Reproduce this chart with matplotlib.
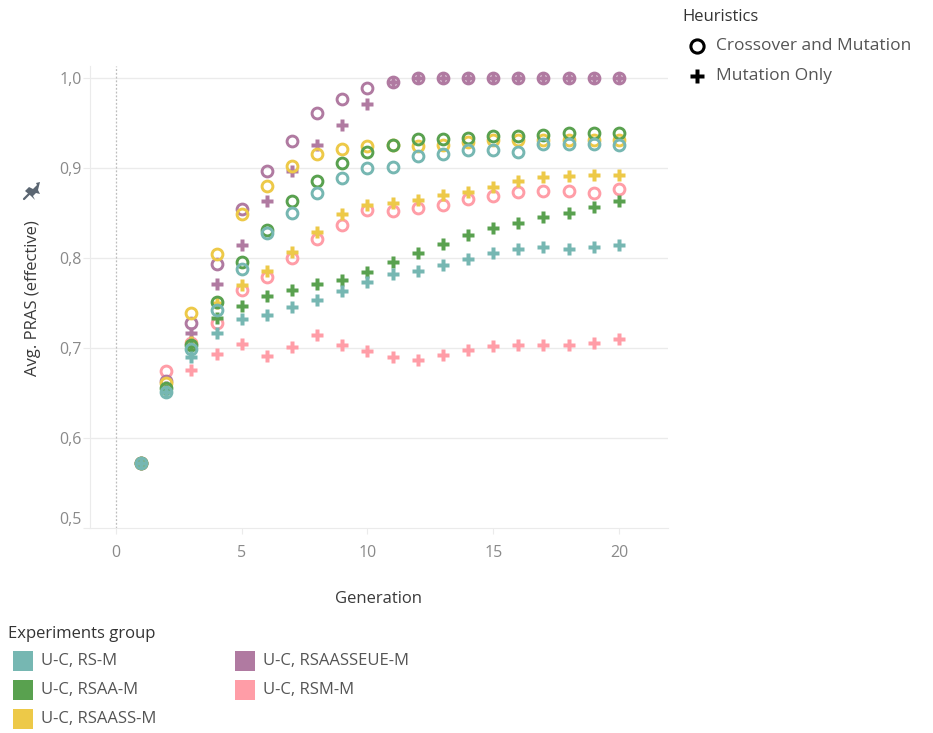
import matplotlib
matplotlib.use("Agg")
import matplotlib.pyplot as plt
from matplotlib.patches import Rectangle, Polygon
from matplotlib.path import Path

plt.rcParams['font.family'] = ['Open Sans', 'DejaVu Sans']

generations = list(range(1, 21))

groups = ["U-C, RS-M", "U-C, RSAA-M", "U-C, RSAASS-M", "U-C, RSAASSEUE-M", "U-C, RSM-M"]
colors = {
    "U-C, RS-M": "#76B7B2",
    "U-C, RSAA-M": "#59A14F",
    "U-C, RSAASS-M": "#EDC948",
    "U-C, RSAASSEUE-M": "#B07AA1",
    "U-C, RSM-M": "#FF9DA7",
}

# Crossover and Mutation
rs_cm = [0.572, 0.651, 0.699, 0.742, 0.788, 0.828, 0.850, 0.872, 0.889, 0.900,
         0.901, 0.913, 0.916, 0.920, 0.920, 0.918, 0.927, 0.927, 0.927, 0.925]
rsaa_cm = [0.572, 0.655, 0.703, 0.751, 0.796, 0.831, 0.863, 0.886, 0.906, 0.918,
           0.926, 0.932, 0.932, 0.933, 0.935, 0.935, 0.937, 0.939, 0.939, 0.939]
rsaass_cm = [0.572, 0.661, 0.739, 0.804, 0.849, 0.880, 0.902, 0.915, 0.921, 0.924,
             0.925, 0.924, 0.926, 0.929, 0.931, 0.931, 0.931, 0.931, 0.931, 0.931]
rsaasseue_cm = [0.572, 0.663, 0.728, 0.793, 0.854, 0.897, 0.930, 0.961, 0.977, 0.989,
                0.996, 1.000, 1.000, 1.000, 1.000, 1.000, 1.000, 1.000, 1.000, 1.000]
rsm_cm = [0.572, 0.674, 0.706, 0.728, 0.764, 0.779, 0.800, 0.821, 0.837, 0.853,
          0.852, 0.855, 0.859, 0.865, 0.869, 0.873, 0.874, 0.874, 0.872, 0.877]

# Mutation Only
rs_mo = [0.572, 0.651, 0.690, 0.717, 0.732, 0.737, 0.745, 0.753, 0.763, 0.773,
         0.782, 0.785, 0.792, 0.799, 0.805, 0.810, 0.812, 0.810, 0.812, 0.814]
rsaa_mo = [0.572, 0.653, 0.702, 0.733, 0.747, 0.758, 0.764, 0.771, 0.776, 0.784,
           0.796, 0.806, 0.816, 0.826, 0.833, 0.839, 0.846, 0.850, 0.857, 0.863]
rsaass_mo = [0.572, 0.656, 0.707, 0.750, 0.770, 0.785, 0.807, 0.829, 0.849, 0.859,
             0.861, 0.864, 0.870, 0.873, 0.879, 0.886, 0.890, 0.891, 0.892, 0.892]
rsaasseue_mo = [0.572, 0.657, 0.717, 0.771, 0.814, 0.863, 0.897, 0.925, 0.948, 0.971,
                0.996, 1.000, 1.000, 1.000, 1.000, 1.000, 1.000, 1.000, 1.000, 1.000]
rsm_mo = [0.572, 0.655, 0.676, 0.693, 0.704, 0.691, 0.701, 0.714, 0.703, 0.697,
          0.690, 0.687, 0.692, 0.698, 0.702, 0.703, 0.703, 0.703, 0.705, 0.710]

crossover = {"U-C, RS-M": rs_cm, "U-C, RSAA-M": rsaa_cm, "U-C, RSAASS-M": rsaass_cm,
             "U-C, RSAASSEUE-M": rsaasseue_cm, "U-C, RSM-M": rsm_cm}
mutation = {"U-C, RS-M": rs_mo, "U-C, RSAA-M": rsaa_mo, "U-C, RSAASS-M": rsaass_mo,
            "U-C, RSAASSEUE-M": rsaasseue_mo, "U-C, RSM-M": rsm_mo}

x_ticks = [0, 5, 10, 15, 20]
y_ticks = [0.5, 0.6, 0.7, 0.8, 0.9, 1.0]
y_tick_labels = ["0,5", "0,6", "0,7", "0,8", "0,9", "1,0"]


def plus_path(t):
    """Plus-sign marker whose arms have half-thickness t (span is 1)."""
    return Path([(-t, -0.5), (t, -0.5), (t, -t), (0.5, -t), (0.5, t), (t, t), (t, 0.5),
                 (-t, 0.5), (-t, t), (-0.5, t), (-0.5, -t), (-t, -t), (-t, -0.5)], closed=True)


plus_marker = plus_path(0.17)
plus_legend = plus_path(0.12)

W, H = 933, 733
fig = plt.figure(figsize=(W / 100, H / 100), dpi=100)
ax = fig.add_axes([90 / W, (H - 528) / H, (668 - 90) / W, (528 - 66) / H])

grid_c = "#ebebeb"
for y in y_ticks[1:]:
    ax.axhline(y, color=grid_c, lw=1, zorder=0)
ax.axvline(0, color="#bdbdbd", lw=0.9, ls=(0, (1.5, 1.5)), zorder=0)

# draw order: pink at the bottom, teal on top
draw_order = ["U-C, RSM-M", "U-C, RSAASSEUE-M", "U-C, RSAASS-M", "U-C, RSAA-M", "U-C, RS-M"]
z = 2
for g in draw_order:
    c = colors[g]
    ax.plot(generations, mutation[g], ls="none", marker=plus_marker, ms=9.3, mfc=c, mec="none", zorder=z)
    ax.plot(generations, crossover[g], ls="none", marker="o", ms=7.8, mfc="none", mec=c, mew=2.1, zorder=z + 0.5)
    z += 1

ax.set_xlim(-1.03, 21.95)
ax.set_ylim(0.5, 1.0133)
ax.set_xticks(x_ticks)
ax.set_xticklabels([str(v) for v in x_ticks])
ax.set_yticks(y_ticks)
ax.set_yticklabels(y_tick_labels)

for s in ["top", "right"]:
    ax.spines[s].set_visible(False)
ax.spines["left"].set_color(grid_c)
ax.spines["bottom"].set_color(grid_c)
ax.tick_params(axis="x", colors=grid_c, length=4, pad=8, labelcolor="#8a8a8a", labelsize=11.5)
ax.tick_params(axis="y", colors=grid_c, length=5, pad=1, labelcolor="#8a8a8a", labelsize=11.5)
ax.get_yticklabels()[0].set_va("bottom")

ax.set_xlabel("Generation", color="#3a3a3a", fontsize=12, labelpad=22)
fig.text(33 / W, 1 - 298 / H, "Avg. PRAS (effective)", rotation=90, ha="center", va="center",
         color="#3a3a3a", fontsize=12)

# pushpin glyph next to the axis title
ov = fig.add_axes([0, 0, 1, 1], zorder=10)
ov.set_xlim(0, W)
ov.set_ylim(H, 0)
ov.axis("off")
pin_c = "#5b6672"
ov.add_patch(Polygon([(25, 191), (29, 187), (33, 189), (37, 185), (36, 183), (40, 182),
                      (38, 190), (40, 194), (36, 193), (33, 196), (35, 200), (31, 196)],
                     closed=True, fc=pin_c, ec="none"))
ov.plot([24, 29], [199, 194], color=pin_c, lw=1.6, solid_capstyle="round")

# shape legend
ov.text(682, 17, "Heuristics", fontsize=12, color="#333333", va="center", ha="left")
ov.plot([697], [46], marker="o", ms=9.5, mfc="none", mec="black", mew=2.2)
ov.text(716, 46, "Crossover and Mutation", fontsize=12.5, color="#555555", va="center", ha="left")
ov.plot([697], [76], marker=plus_legend, ms=10, mfc="black", mec="none")
ov.text(716, 76, "Mutation Only", fontsize=12.5, color="#555555", va="center", ha="left")

# colour legend
ov.text(8, 634, "Experiments group", fontsize=12, color="#333333", va="center", ha="left")
legend_pos = {
    "U-C, RS-M": (13, 661),
    "U-C, RSAA-M": (13, 690),
    "U-C, RSAASS-M": (13, 719),
    "U-C, RSAASSEUE-M": (235, 661),
    "U-C, RSM-M": (235, 690),
}
for g in groups:
    x0, yc = legend_pos[g]
    ov.add_patch(Rectangle((x0, yc - 10), 20, 20, fc=colors[g], ec="none"))
    ov.text(x0 + 28, yc, g, fontsize=12, color="#555555", va="center", ha="left")

fig.savefig("out.png", dpi=100)
